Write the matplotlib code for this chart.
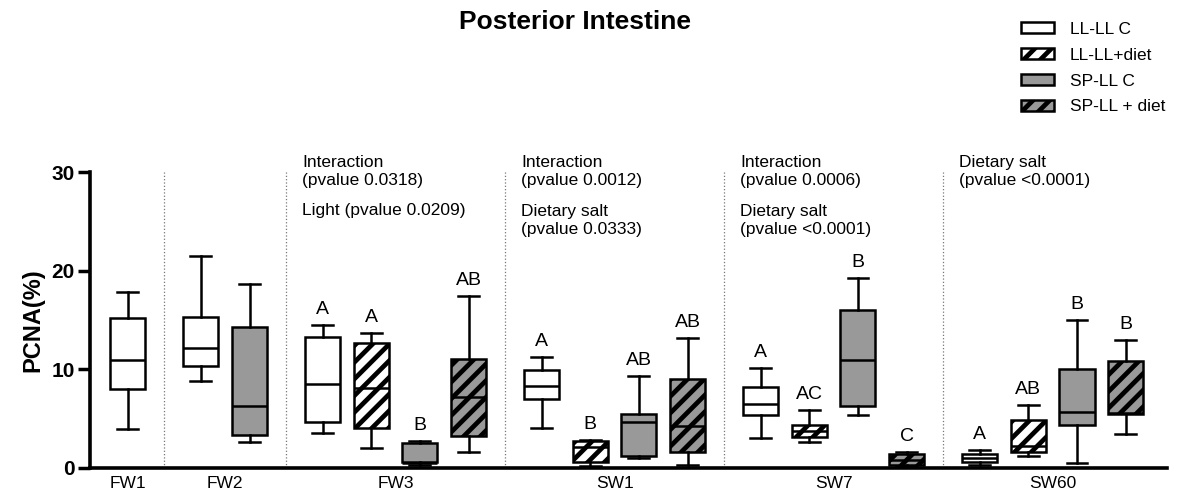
import matplotlib.pyplot as plt
from matplotlib.patches import Patch

plt.rcParams['font.family'] = ['Liberation Sans', 'DejaVu Sans']
plt.rcParams['hatch.linewidth'] = 3.4

# data: (whisker low, Q1, median, Q3, whisker high)
stages = ['FW1', 'FW2', 'FW3', 'SW1', 'SW7', 'SW60']
groups = ['LL-LL C', 'LL-LL+diet', 'SP-LL C', 'SP-LL + diet']

# treatment groups present in each stage (index into groups)
stage_groups = [[0], [0, 2], [0, 1, 2, 3], [0, 1, 2, 3], [0, 1, 2, 3], [0, 1, 2, 3]]

stage_stats = [
    [(3.9, 8.0, 10.9, 15.2, 17.8)],
    [(8.8, 10.3, 12.2, 15.3, 21.5), (2.6, 3.3, 6.3, 14.3, 18.7)],
    [(3.5, 4.6, 8.5, 13.3, 14.5), (2.0, 4.0, 8.1, 12.7, 13.7),
     (0.3, 0.6, 0.5, 2.5, 2.7), (1.6, 3.2, 7.2, 11.0, 17.4)],
    [(4.0, 7.0, 8.3, 9.9, 11.2), (0.2, 0.6, 2.1, 2.7, 2.8),
     (1.0, 1.2, 4.6, 5.5, 9.3), (0.3, 1.6, 4.2, 9.0, 13.2)],
    [(3.0, 5.3, 6.5, 8.2, 10.1), (2.6, 3.1, 3.7, 4.3, 5.9),
     (5.4, 6.3, 10.9, 16.0, 19.3), (0.2, 0.3, 0.8, 1.4, 1.6)],
    [(0.3, 0.6, 1.0, 1.4, 1.8), (1.2, 1.6, 2.2, 4.8, 6.4),
     (0.5, 4.3, 5.7, 10.0, 15.0), (3.4, 5.5, 5.6, 10.8, 13.0)],
]

stage_letters = [[], [], ['A', 'A', 'B', 'AB'], ['A', 'B', 'AB', 'AB'],
                 ['A', 'AC', 'B', 'C'], ['A', 'AB', 'B', 'B']]

# two-way anova notes: stage index, text, vertical centre (data units)
notes_stage = [2, 2, 3, 3, 4, 4, 5]
notes_text = ['Interaction\n(pvalue 0.0318)', 'Light (pvalue 0.0209)',
              'Interaction\n(pvalue 0.0012)', 'Dietary salt\n(pvalue 0.0333)',
              'Interaction\n(pvalue 0.0006)', 'Dietary salt\n(pvalue <0.0001)',
              'Dietary salt\n(pvalue <0.0001)']
notes_y = [30.1, 26.15, 30.1, 25.1, 30.1, 25.1, 30.1]

gray = '#999999'
face = ['white', 'white', gray, gray]
hatch = [None, '//', None, '//']

fig = plt.figure(figsize=(11.9, 4.97), dpi=100)
ax = fig.add_axes([0.0756, 0.059, 0.9051, 0.5943])

pos = 0.0
centers = []
bounds = [-0.78]
for si, (gi_list, stats) in enumerate(zip(stage_groups, stage_stats)):
    if si > 0:
        pos += 0.5
        bounds.append(pos - 0.75)
    xs = []
    for k, (gi, s) in enumerate(zip(gi_list, stats)):
        d = dict(whislo=s[0], q1=s[1], med=s[2], q3=s[3], whishi=s[4], fliers=[])
        ax.bxp([d], positions=[pos], widths=0.72, patch_artist=True,
               showfliers=False, capwidths=0.43,
               boxprops=dict(facecolor=face[gi], edgecolor='black',
                             linewidth=1.8, hatch=hatch[gi]),
               medianprops=dict(color='black', linewidth=1.8),
               whiskerprops=dict(color='black', linewidth=1.8),
               capprops=dict(color='black', linewidth=1.8))
        if stage_letters[si]:
            ax.annotate(stage_letters[si][k], (pos, s[4]), xytext=(0, 5),
                        textcoords='offset points', ha='center', va='bottom',
                        fontsize=14, clip_on=False)
        xs.append(pos)
        pos += 1
    centers.append(sum(xs) / len(xs))
bounds.append(pos - 1 + 0.85)

for b in bounds[1:-1]:
    ax.plot([b, b], [0, 30], color='#777777', linestyle=':', linewidth=0.9,
            clip_on=False)

for si, txt, y in zip(notes_stage, notes_text, notes_y):
    ax.text(bounds[si] + 0.33, y, txt, fontsize=12.5, ha='left', va='center',
            linespacing=1.25, clip_on=False)

ax.set_xlim(bounds[0], bounds[-1])
ax.set_ylim(0, 30)
ax.set_xticks(centers)
ax.set_xticklabels(stages, fontsize=12.5)
ax.tick_params(axis='x', length=0, pad=6)
ax.set_yticks([0, 10, 20, 30])
ax.tick_params(axis='y', length=9, width=2.5, labelsize=15, pad=2)
for lab in ax.get_yticklabels():
    lab.set_fontweight('bold')
ax.set_ylabel('PCNA(%)', fontsize=17, fontweight='bold', labelpad=5)
ax.spines['top'].set_visible(False)
ax.spines['right'].set_visible(False)
ax.spines['left'].set_linewidth(2.6)
ax.spines['bottom'].set_linewidth(2.6)

fig.text(0.483, 0.956, 'Posterior Intestine', fontsize=19, fontweight='bold',
         ha='center', va='center')

handles = [Patch(facecolor=face[i], edgecolor='black', hatch=hatch[i],
                 linewidth=1.8, label=groups[i]) for i in range(4)]
fig.legend(handles=handles, loc='upper left', bbox_to_anchor=(1021 / 1190, 1 - 22 / 497),
           frameon=False, fontsize=12.5, handlelength=1.9, handleheight=0.6,
           handletextpad=0.9, labelspacing=0.62, borderpad=0, borderaxespad=0)

fig.savefig('out.png', dpi=100)
